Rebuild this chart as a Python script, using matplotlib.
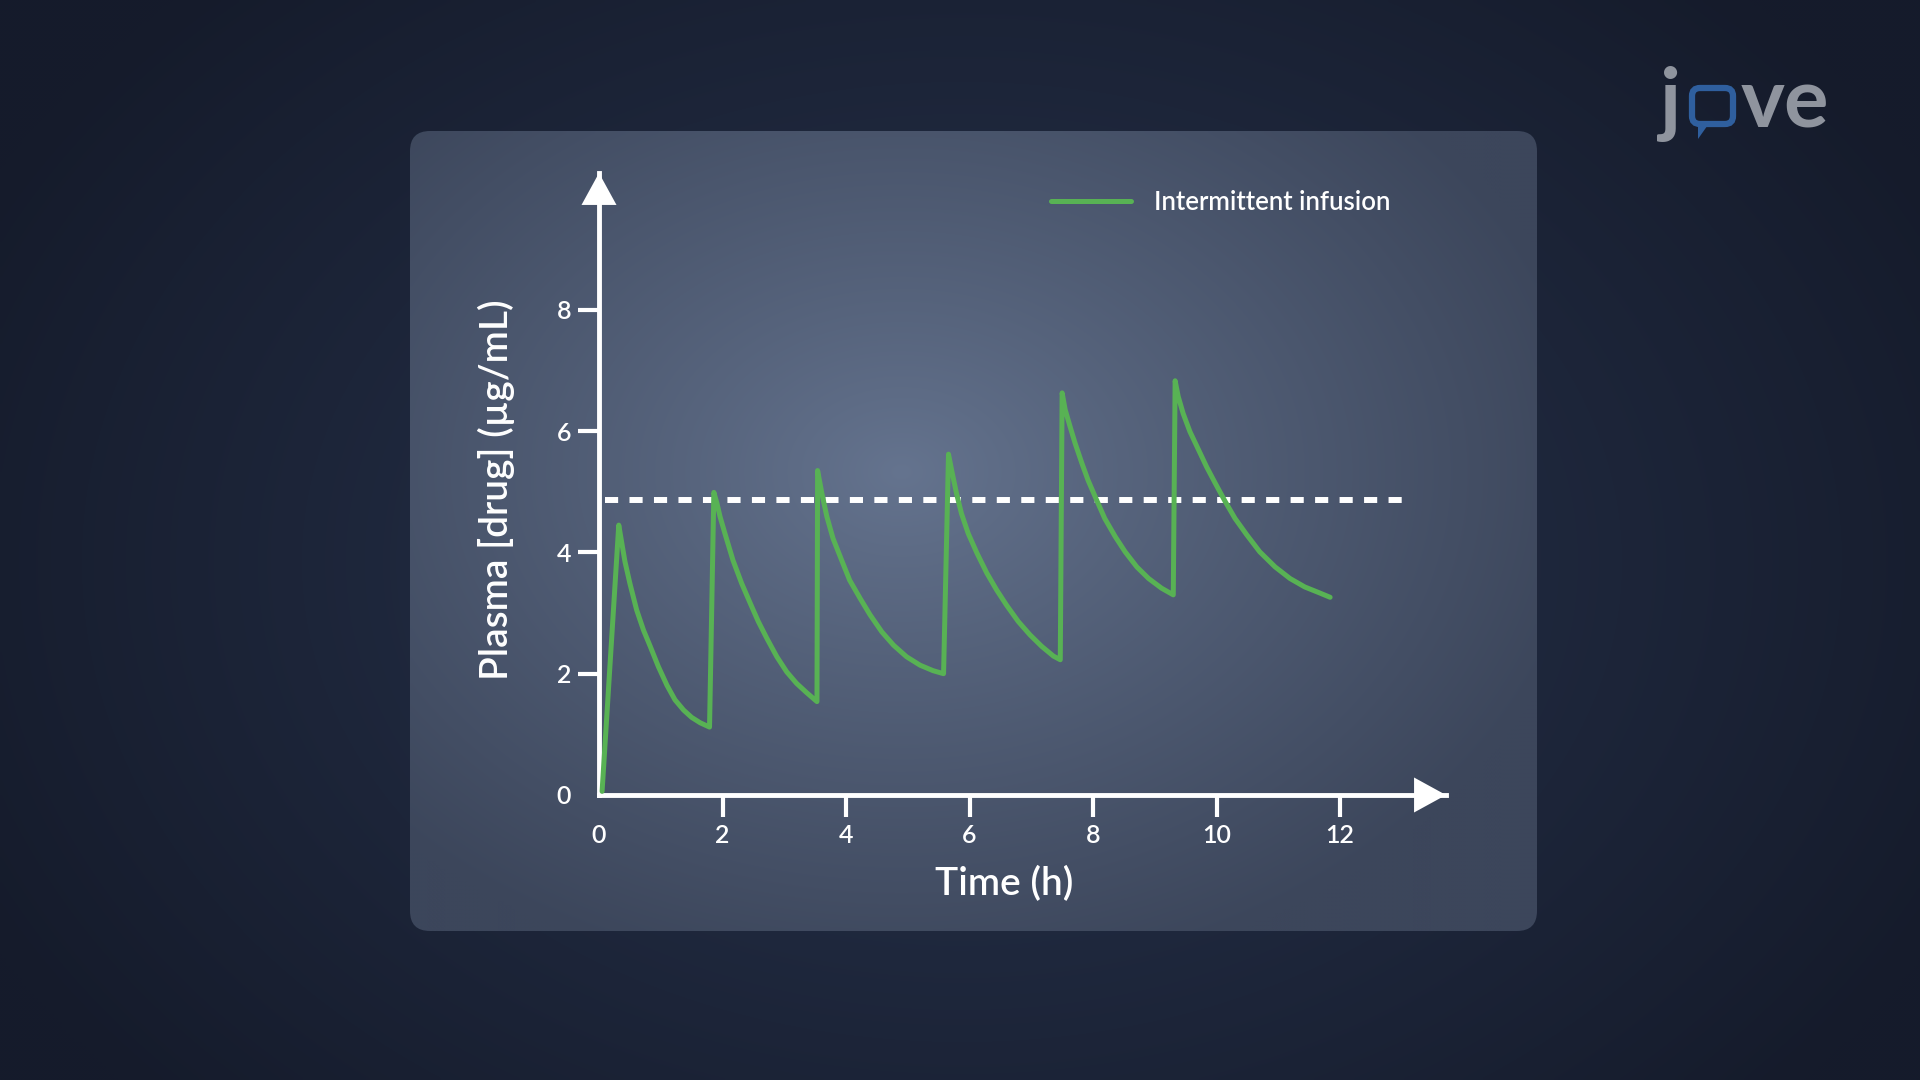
# Plasma drug concentration with intermittent infusion (JoVE style slide)

import numpy as np
import matplotlib.pyplot as plt
from matplotlib.patches import FancyBboxPatch, Polygon


# Data
time_h = [0.05, 0.32, 0.37, 0.42, 0.50, 0.61, 0.72, 0.83, 0.96, 1.10, 1.23, 1.37, 1.50, 1.64, 1.79,
          1.86, 1.91, 1.96, 2.04, 2.17, 2.31, 2.45, 2.58, 2.72, 2.88, 3.04, 3.20, 3.36, 3.53,
          3.54, 3.61, 3.69, 3.79, 3.93, 4.06, 4.23, 4.39, 4.58, 4.77, 4.98, 5.20, 5.41, 5.58,
          5.66, 5.71, 5.79, 5.87, 5.98, 6.12, 6.28, 6.44, 6.60, 6.79, 6.98, 7.17, 7.36, 7.47,
          7.50, 7.55, 7.63, 7.71, 7.82, 7.92, 8.06, 8.19, 8.36, 8.52, 8.71, 8.90, 9.11, 9.30,
          9.33, 9.38, 9.46, 9.57, 9.71, 9.84, 9.98, 10.14, 10.30, 10.49, 10.70, 10.95, 11.19,
          11.43, 11.65, 11.84]
conc = [0.06, 4.45, 4.15, 3.85, 3.49, 3.05, 2.72, 2.45, 2.12, 1.81, 1.57, 1.40, 1.28, 1.19, 1.12,
        4.99, 4.81, 4.59, 4.31, 3.87, 3.49, 3.16, 2.86, 2.58, 2.28, 2.03, 1.84, 1.69, 1.54,
        5.35, 4.97, 4.59, 4.23, 3.87, 3.54, 3.24, 2.97, 2.69, 2.47, 2.28, 2.14, 2.05, 2.00,
        5.62, 5.36, 4.97, 4.64, 4.31, 3.99, 3.66, 3.38, 3.13, 2.86, 2.64, 2.45, 2.29, 2.23,
        6.63, 6.35, 6.07, 5.80, 5.47, 5.19, 4.86, 4.56, 4.26, 4.01, 3.76, 3.57, 3.41, 3.30,
        6.83, 6.57, 6.29, 5.99, 5.69, 5.41, 5.14, 4.84, 4.56, 4.29, 4.01, 3.76, 3.57,
        3.43, 3.34, 3.26]

target_level = 4.86
target_span = [0.1, 13.06]

x_ticks = [0, 2, 4, 6, 8, 10, 12]
y_ticks = [0, 2, 4, 6, 8]

plt.rcParams["font.family"] = ["Lato", "DejaVu Sans"]
plt.rcParams["font.weight"] = "semibold"

W, H = 1920, 1080
fig = plt.figure(figsize=(19.2, 10.8), dpi=100)


# Background (pixel coordinates)
bg = fig.add_axes([0, 0, 1, 1])
bg.set_xlim(0, W)
bg.set_ylim(H, 0)
bg.axis("off")

yy, xx = np.mgrid[0:H:4, 0:W:4]
r = np.sqrt(((xx - 960) / 1100) ** 2 + ((yy - 560) / 800) ** 2)
r = np.clip(r, 0, 1)
c_in = np.array([0x28, 0x34, 0x4e]) / 255
c_out = np.array([0x15, 0x1b, 0x2b]) / 255
img = c_in[None, None, :] * (1 - r[..., None]) + c_out[None, None, :] * r[..., None]
bg.imshow(img, extent=(0, W, H, 0), aspect="auto", zorder=0, interpolation="bilinear")

# panel
px0, py0, px1, py1 = 410, 131, 1537, 931
yy, xx = np.mgrid[py0:py1:4, px0:px1:4]
r = np.sqrt(((xx - 900) / 700) ** 2 + ((yy - 470) / 520) ** 2)
r = np.clip(r, 0, 1) ** 0.9
p_in = np.array([0x65, 0x74, 0x8f]) / 255
p_out = np.array([0x3c, 0x46, 0x5b]) / 255
pimg = p_in[None, None, :] * (1 - r[..., None]) + p_out[None, None, :] * r[..., None]
im = bg.imshow(pimg, extent=(px0, px1, py1, py0), aspect="auto", zorder=1,
               interpolation="bilinear")
panel = FancyBboxPatch((px0, py0), px1 - px0, py1 - py0,
                       boxstyle="round,pad=0,rounding_size=20",
                       transform=bg.transData, facecolor="none", edgecolor="none")
bg.add_patch(panel)
im.set_clip_path(panel)
bg.set_xlim(0, W)
bg.set_ylim(H, 0)

# logo
logo_gray = "#8f949e"
logo_blue = "#2f5f9e"
bg.text(1660, 127, "j", fontsize=60, fontweight="bold", color=logo_gray,
        ha="left", va="baseline", zorder=3)
bg.text(1741, 127, "ve", fontsize=60, fontweight="bold", color=logo_gray,
        ha="left", va="baseline", zorder=3)
bubble = FancyBboxPatch((1692, 88), 41, 36, boxstyle="round,pad=0,rounding_size=8",
                        facecolor="none", edgecolor=logo_blue, linewidth=4.5, zorder=3)
bg.add_patch(bubble)
bg.add_patch(Polygon([[1698, 122], [1710, 122], [1698, 139]], closed=True,
                     facecolor=logo_blue, edgecolor="none", zorder=3))


# Chart axes
x0_px, xr_px = 599, 1446
y0_px, yt_px = 795, 173
sx, sy = 61.75, 60.65
ax = fig.add_axes([x0_px / W, 1 - y0_px / H, (xr_px - x0_px) / W, (y0_px - yt_px) / H])
ax.set_facecolor("none")
ax.set_xlim(0, (xr_px - x0_px) / sx)
ax.set_ylim(0, (y0_px - yt_px) / sy)

ax.plot(time_h, conc, color="#58b254", lw=3.6, solid_joinstyle="round",
        solid_capstyle="round", label="Intermittent infusion", zorder=3)
ax.plot(target_span, [target_level, target_level], color="white", lw=4.3,
        linestyle=(0, (2.2, 1.9)), dash_capstyle="butt", zorder=2)

for s in ["top", "right"]:
    ax.spines[s].set_visible(False)
for s in ["left", "bottom"]:
    ax.spines[s].set_color("white")
    ax.spines[s].set_linewidth(3.5)

ax.set_xticks(x_ticks)
ax.set_yticks(y_ticks)
ax.tick_params(axis="y", direction="out", length=15, width=3, pad=5,
               labelsize=18, colors="white")
ax.tick_params(axis="x", direction="out", length=16, width=3, pad=5,
               labelsize=18, colors="white")
ax.xaxis.get_major_ticks()[0].tick1line.set_visible(False)
ax.yaxis.get_major_ticks()[0].tick1line.set_visible(False)

xmax = ax.get_xlim()[1]
ymax = ax.get_ylim()[1]
arrow = "-|>,head_length=2.3,head_width=1.26"
ax.annotate("", xy=(0, ymax), xytext=(0, ymax - 1), annotation_clip=False,
            arrowprops=dict(arrowstyle=arrow, color="white", lw=0,
                            mutation_scale=10, shrinkA=0, shrinkB=0))
ax.annotate("", xy=(xmax, 0), xytext=(xmax - 1, 0), annotation_clip=False,
            arrowprops=dict(arrowstyle=arrow, color="white", lw=0,
                            mutation_scale=10, shrinkA=0, shrinkB=0))

fig.text(496 / W, 1 - 490 / H, "Plasma [drug] (µg/mL)", rotation=90,
         ha="center", va="center", fontsize=28, color="white")
fig.text(1004 / W, 1 - 884 / H, "Time (h)", ha="center", va="center",
         fontsize=28, color="white")

ax.legend(loc="center left", bbox_to_anchor=(1051 / W, 1 - 202 / H),
          bbox_transform=fig.transFigure, frameon=False, fontsize=18.5,
          handlelength=3.1, handletextpad=0.9, borderpad=0, borderaxespad=0,
          labelcolor="white")

plt.savefig("out.png", dpi=100)
